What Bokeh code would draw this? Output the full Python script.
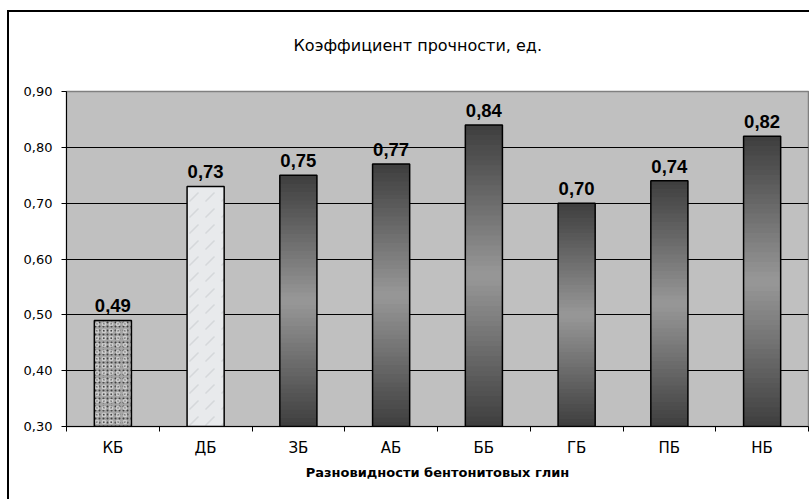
import numpy as np
from bokeh.plotting import figure
from bokeh.models import FixedTicker, CustomJSTickFormatter, Range1d, Title
from bokeh.embed import file_html
from bokeh.resources import INLINE
from bokeh.core.properties import value

# Data
categories = ["КБ", "ДБ", "ЗБ", "АБ", "ББ", "ГБ", "ПБ", "НБ"]
strength = [0.49, 0.73, 0.75, 0.77, 0.84, 0.70, 0.74, 0.82]
y_ticks = [0.30, 0.40, 0.50, 0.60, 0.70, 0.80, 0.90]

title_text = "Коэффициент прочности, ед."
x_title_text = "Разновидности бентонитовых глин"

FONT = "DejaVu Sans"
VALUE_FONT = "Liberation Sans"
BASE = y_ticks[0]
BAR_W = 0.4
TEXTURED = {"КБ": "granite", "ДБ": "marble"}

p = figure(width=802, height=489,
           x_range=Range1d(0, len(categories)), y_range=Range1d(y_ticks[0], y_ticks[-1]),
           output_backend="svg", toolbar_location=None, title=None,
           min_border_left=57, min_border_top=79, min_border_right=3, min_border_bottom=75)
p.margin = (10, 0, 0, 7)
p.styles = {"border-left": "2px solid black", "border-top": "2px solid black"}

p.background_fill_color = "#C0C0C0"
p.border_fill_color = "white"
p.outline_line_color = "#808080"
p.outline_line_width = 1.5

xs = [i + 0.5 for i in range(len(categories))]
lefts = [x - BAR_W / 2 for x in xs]
rights = [x + BAR_W / 2 for x in xs]

# Gradient bars: dark at both ends, lighter in the middle, built from thin slices
N = 60
gl, gr, gb, gt, gc = [], [], [], [], []
for cat, l, r, v in zip(categories, lefts, rights, strength):
    if cat in TEXTURED:
        continue
    edges = np.linspace(BASE, v, N + 1)
    step = (v - BASE) / N
    for k in range(N):
        t = 1 - (k + 0.5) / N  # fraction from the top of the bar
        g = int(round(62 + 90 * (1 - abs(t - 0.5) / 0.5)))
        gl.append(l)
        gr.append(r)
        gb.append(edges[k])
        gt.append(min(edges[k + 1] + step * 0.6, v))
        gc.append("#%02x%02x%02x" % (g, g, g))
p.quad(left=gl, right=gr, bottom=gb, top=gt, fill_color=gc, line_color=None)

# Textured bars
for cat, l, r, v in zip(categories, lefts, rights, strength):
    kind = TEXTURED.get(cat)
    if kind == "granite":
        p.quad(left=[l], right=[r], bottom=[BASE], top=[v], fill_color="#A6A6A6",
               line_color=None, hatch_pattern="dot", hatch_color="#404040",
               hatch_scale=4, hatch_weight=1.5)
        p.quad(left=[l], right=[r], bottom=[BASE], top=[v], fill_alpha=0,
               line_color=None, hatch_pattern="ring", hatch_color="#DADADA",
               hatch_scale=7, hatch_weight=1.2, hatch_alpha=0.8)
    elif kind == "marble":
        p.quad(left=[l], right=[r], bottom=[BASE], top=[v], fill_color="#E8EAEC",
               line_color=None, hatch_pattern="right_diagonal_dash", hatch_color="#C4C8CC",
               hatch_scale=16, hatch_weight=1.5, hatch_alpha=0.55)

# Bar outlines
p.quad(left=lefts, right=rights, bottom=[BASE] * len(strength), top=strength,
       fill_color=None, line_color="black", line_width=1.5)

# Value labels
labels = [f"{v:.2f}".replace(".", ",") for v in strength]
p.text(x=xs, y=strength, text=labels, text_font=value(VALUE_FONT), text_font_style="bold",
       text_font_size="18.5px", text_color="black", text_align="center",
       text_baseline="bottom", y_offset=-8)

# Y axis
p.yaxis.ticker = FixedTicker(ticks=y_ticks)
p.yaxis.formatter = CustomJSTickFormatter(code="return tick.toFixed(2).replace('.', ',');")
p.yaxis.major_label_text_font = FONT
p.yaxis.major_label_text_font_size = "13px"
p.yaxis.major_label_text_color = "black"
p.yaxis.major_tick_out = 5
p.yaxis.major_tick_in = 0
p.yaxis.minor_tick_line_color = None
p.yaxis.axis_line_color = "black"
p.yaxis.major_tick_line_color = "black"
p.yaxis.major_label_standoff = 9

# X axis: labels at category centres, tick marks at category boundaries
p.xaxis.ticker = FixedTicker(ticks=xs, minor_ticks=list(range(len(categories) + 1)))
p.xaxis.major_label_overrides = {x: c for x, c in zip(xs, categories)}
p.xaxis.major_label_text_font = FONT
p.xaxis.major_label_text_font_size = "15px"
p.xaxis.major_label_text_color = "black"
p.xaxis.major_tick_line_color = None
p.xaxis.major_tick_out = 5
p.xaxis.minor_tick_out = 5
p.xaxis.minor_tick_in = 0
p.xaxis.minor_tick_line_color = "black"
p.xaxis.axis_line_color = "black"
p.xaxis.major_label_standoff = 7
p.xaxis.axis_label = x_title_text
p.xaxis.axis_label_text_font = FONT
p.xaxis.axis_label_text_font_size = "13px"
p.xaxis.axis_label_text_font_style = "bold"
p.xaxis.axis_label_text_color = "black"
p.xaxis.axis_label_standoff = 5

# Grid
p.xgrid.grid_line_color = None
p.ygrid.ticker = FixedTicker(ticks=y_ticks[1:-1])
p.ygrid.grid_line_color = "black"
p.ygrid.grid_line_width = 1

# Empty band between the chart title and the plot area
p.add_layout(Title(text=" ", text_font_size="1px", standoff=32), "above")

# Chart title
p.add_layout(Title(text=title_text, text_font=FONT, text_font_size="16px",
                   text_font_style="normal", text_color="black",
                   align="left", offset=227, vertical_align="top", standoff=0), "above")

open("out.html", "w").write(file_html(p, INLINE))
